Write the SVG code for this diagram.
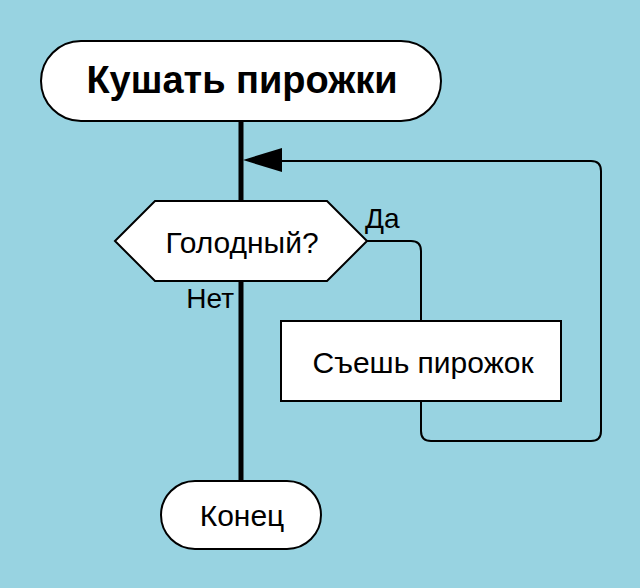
<svg xmlns="http://www.w3.org/2000/svg" width="640" height="588" viewBox="0 0 640 588">
<style>
.shape{fill:#fff;stroke:#000;stroke-width:2}
.t{font-family:"Liberation Sans",Arial,sans-serif;fill:#000;text-anchor:middle}
.lbl{font-family:"Liberation Sans",Arial,sans-serif;fill:#000;font-size:28px}
.edge{fill:none;stroke:#000;stroke-width:2}
</style>
<rect width="640" height="588" fill="#98d3e1"/>
<g id="connectors">
<line x1="241" y1="121" x2="241" y2="481" stroke="#000" stroke-width="5"/>
<path class="edge" d="M367,241 H411 Q421,241 421,251 V321"/>
<path class="edge" d="M421,401 V431 Q421,441 431,441 H591 Q601,441 601,431 V171 Q601,161 591,161 H282"/>
<path d="M243,160 L282,148 L282,172 Z" fill="#000"/>
<text class="lbl" x="365" y="228">Да</text>
<text class="lbl" x="234" y="308" text-anchor="end">Нет</text>
</g>
<g id="start">
<rect class="shape" x="41" y="41" width="400" height="80" rx="40"/>
<text class="t" x="242" y="93" font-size="38" font-weight="bold">Кушать пирожки</text>
</g>
<g id="decision">
<polygon class="shape" points="115,241 155,201 327,201 367,241 327,281 155,281"/>
<text class="t" x="242" y="253" font-size="30">Голодный?</text>
</g>
<g id="eat">
<rect class="shape" x="281" y="321" width="280" height="80"/>
<text class="t" x="423" y="373" font-size="30">Съешь пирожок</text>
</g>
<g id="end">
<rect class="shape" x="161" y="481" width="160" height="68" rx="34"/>
<text class="t" x="242" y="526" font-size="30">Конец</text>
</g>
</svg>
